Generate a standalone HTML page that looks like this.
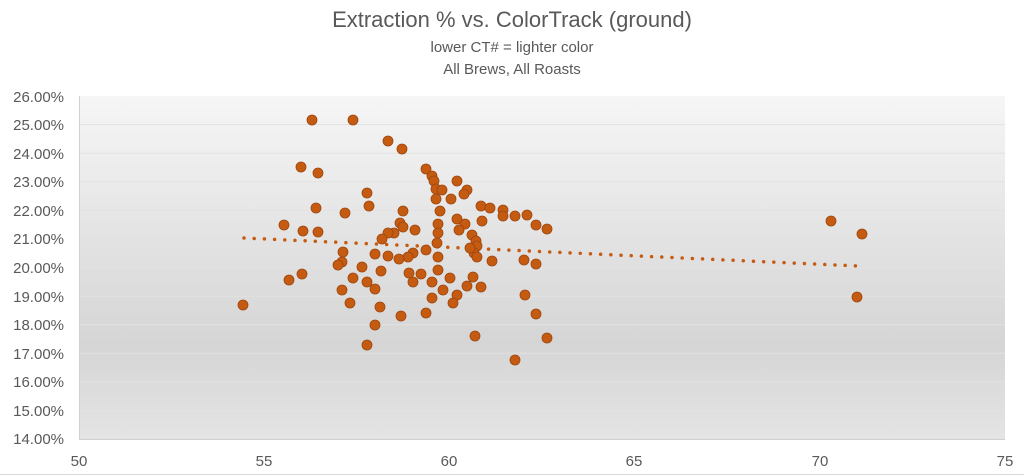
<!DOCTYPE html>
<html><head><meta charset="utf-8"><style>
html,body{margin:0;padding:0;background:#fff;}
svg{display:block;font-family:"Liberation Sans",sans-serif;}
</style></head><body>
<svg width="1024" height="475" viewBox="0 0 1024 475" xmlns="http://www.w3.org/2000/svg">
<defs>
<linearGradient id="bg" x1="0" y1="0" x2="0" y2="1">
<stop offset="0" stop-color="#f6f6f6"/>
<stop offset="0.72" stop-color="#d5d5d5"/>
<stop offset="1" stop-color="#e4e4e4"/>
</linearGradient>
</defs>
<rect x="0" y="0" width="1024" height="475" fill="#fff"/>
<rect x="79" y="96" width="926" height="343" fill="url(#bg)"/>
<g stroke="#e2e2e2" stroke-width="1">
<line x1="79" x2="1005" y1="124.6" y2="124.6"/><line x1="79" x2="1005" y1="153.2" y2="153.2"/>
<line x1="79" x2="1005" y1="181.8" y2="181.8"/><line x1="79" x2="1005" y1="210.3" y2="210.3"/>
<line x1="79" x2="1005" y1="238.9" y2="238.9"/><line x1="79" x2="1005" y1="267.5" y2="267.5"/>
<line x1="79" x2="1005" y1="296.1" y2="296.1"/><line x1="79" x2="1005" y1="324.7" y2="324.7"/>
<line x1="79" x2="1005" y1="353.3" y2="353.3"/><line x1="79" x2="1005" y1="381.8" y2="381.8"/>
<line x1="79" x2="1005" y1="410.4" y2="410.4"/>
</g>
<line x1="79.5" y1="96" x2="79.5" y2="439" stroke="#d0d0d0"/>
<line x1="79" y1="439.5" x2="1005" y2="439.5" stroke="#d0d0d0"/>
<line x1="0" y1="474.5" x2="1024" y2="474.5" stroke="#d9d9d9"/>
<g fill="#595959" text-anchor="middle">
<text x="512" y="27" font-size="22">Extraction % vs. ColorTrack (ground)</text>
<text x="512" y="52" font-size="15">lower CT# = lighter color</text>
<text x="512" y="74" font-size="15">All Brews, All Roasts</text>
</g>
<g fill="#595959" font-size="15" text-anchor="end">
<text x="64" y="102">26.00%</text><text x="64" y="130">25.00%</text><text x="64" y="159">24.00%</text>
<text x="64" y="187">23.00%</text><text x="64" y="216">22.00%</text><text x="64" y="244">21.00%</text>
<text x="64" y="273">20.00%</text><text x="64" y="302">19.00%</text><text x="64" y="330">18.00%</text>
<text x="64" y="359">17.00%</text><text x="64" y="387">16.00%</text><text x="64" y="416">15.00%</text>
<text x="64" y="444">14.00%</text>
</g>
<g fill="#595959" font-size="15" text-anchor="middle">
<text x="79" y="466">50</text><text x="264" y="466">55</text><text x="449" y="466">60</text>
<text x="634" y="466">65</text><text x="820" y="466">70</text><text x="1005" y="466">75</text>
</g>
<line x1="244" y1="238" x2="858" y2="266" stroke="#c55a11" stroke-width="3.5" stroke-linecap="round" stroke-dasharray="0 10.2"/>
<g fill="#c55a11" stroke="#9c4610" stroke-width="0.8" id="pts"></g>
</svg>
<script>
var p=[[243,305],[312,120],[353,120],[388,141],[402,149],[301,167],[318,173],[426,169],[432,176],[434,181],[436,189],[442,190],[457,181],[467,190],[464,194],[367,193],[451,199],[436,199],[369,206],[316,208],[481,206],[490,208],[503,210],[503,216],[515,216],[527,215],[345,213],[403,211],[440,211],[482,221],[536,225],[547,229],[284,225],[303,231],[318,232],[457,219],[465,224],[459,230],[438,224],[438,233],[400,223],[403,227],[415,230],[394,233],[388,233],[382,239],[437,243],[472,235],[476,241],[477,246],[474,253],[477,257],[470,248],[426,250],[413,253],[408,257],[399,259],[388,256],[375,254],[343,252],[342,262],[338,265],[438,257],[492,261],[524,260],[536,264],[289,280],[302,274],[362,267],[381,271],[353,278],[367,282],[409,273],[421,274],[438,270],[413,282],[450,278],[432,282],[473,277],[467,286],[481,287],[443,290],[342,290],[375,289],[457,295],[432,298],[453,303],[525,295],[350,303],[380,307],[426,313],[401,316],[536,314],[375,325],[475,336],[547,338],[367,345],[515,360],[831,221],[862,234],[857,297]];
var g=document.getElementById('pts'),s='';
p.forEach(function(q){s+='<circle cx="'+q[0]+'" cy="'+q[1]+'" r="5"/>';});
g.innerHTML=s;
</script>
</body></html>
